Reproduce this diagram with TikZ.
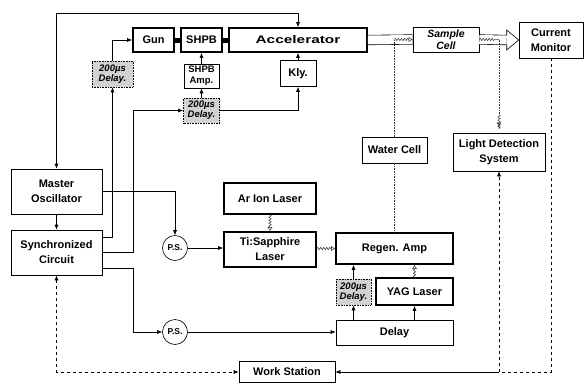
\documentclass[tikz,border=0pt]{standalone}
\usepackage{fontspec}
\setmainfont{Liberation Sans}
\usetikzlibrary{arrows.meta,decorations.pathmorphing}

\begin{document}
\begin{tikzpicture}[x=1pt,y=-1pt,
  unit/.style={draw,line width=.6pt,align=center,inner sep=1pt,font=\fontsize{11}{15}\selectfont\bfseries},
  heavy/.style={unit,line width=1.6pt},
  delaybox/.style={unit,densely dotted,fill=gray!35,font=\fontsize{9.5}{10}\selectfont\bfseries\itshape},
  psnode/.style={draw,circle,line width=.6pt,minimum size=25pt,inner sep=0pt,font=\fontsize{8.5}{10}\selectfont\bfseries},
  link/.style={line width=.6pt,-{Latex[length=5pt,width=4pt]}},
  ctrl/.style={link,dashed},
  optic/.style={line width=.6pt,densely dotted,gray!40!black},
  wave/.style={line width=.5pt,gray!40!black,decorate,
    decoration={snake,amplitude=1.2pt,segment length=3pt,post length=4pt},
    -{Latex[open,length=4pt,width=5pt]}},
  beam/.style={line width=.6pt,double,double distance=9pt}
]
  \useasboundingbox (0,0) rectangle (584,383);

  % beam line
  \node[heavy,minimum width=41pt,minimum height=24pt] (gun) at (153.5,40) {Gun};
  \node[heavy,minimum width=41pt,minimum height=24pt] (shpb) at (201.5,40) {SHPB};
  \node[heavy,minimum width=138pt,minimum height=24pt] (accel) at (298,40) {\scalebox{1.4}[1]{Accelerator}};
  \node[unit,minimum width=66pt,minimum height=25pt,font=\fontsize{10.5}{12.5}\selectfont\bfseries\itshape] (cell) at (446,39.5) {Sample\\Cell};
  \node[unit,minimum width=64pt,minimum height=36pt] (monitor) at (551,40) {Current\\Monitor};
  \node[delaybox,minimum width=41pt,minimum height=26pt] (dlyA) at (112.5,74) {200µs\\Delay.};
  \node[unit,minimum width=35pt,minimum height=24pt,font=\fontsize{9.5}{11}\selectfont\bfseries] (amp) at (201.5,76) {SHPB\\Amp.};
  \node[delaybox,minimum width=36pt,minimum height=25pt] (dlyB) at (201.5,110.5) {200µs\\Delay.};
  \node[unit,minimum width=36pt,minimum height=26pt] (kly) at (298,73.5) {Kly.};

  % timing and lasers
  \node[unit,minimum width=65pt,minimum height=26pt] (water) at (394.5,150) {Water Cell};
  \node[unit,minimum width=92pt,minimum height=38pt] (lds) at (499,152) {Light Detection\\System};
  \node[unit,minimum width=91pt,minimum height=45pt] (master) at (56.5,191.5) {Master\\Oscillator};
  \node[unit,minimum width=91pt,minimum height=45pt] (sync) at (56.5,252.5) {Synchronized\\Circuit};
  \node[heavy,minimum width=92pt,minimum height=31pt] (arion) at (270,198.5) {Ar Ion Laser};
  \node[heavy,minimum width=92pt,minimum height=35pt] (tisa) at (270,249.5) {Ti:Sapphire\\Laser};
  \node[psnode] (ps1) at (175,248) {P.S.};
  \node[psnode] (ps2) at (175,332) {P.S.};
  \node[heavy,minimum width=117pt,minimum height=31pt] (regen) at (394.5,248.5) {Regen. Amp};
  \node[delaybox,minimum width=35pt,minimum height=26pt] (dlyC) at (353.5,292) {200µs\\Delay.};
  \node[heavy,minimum width=77pt,minimum height=27pt] (yag) at (414.5,291.5) {YAG Laser};
  \node[unit,minimum width=117pt,minimum height=25pt] (delay) at (394.5,332.5) {Delay};
  \node[unit,minimum width=96pt,minimum height=21pt] (ws) at (287,372) {Work Station};

  \coordinate (top) at (0,13);
  \coordinate (jB) at (133,0);
  \coordinate (wtap) at (water.north |- cell.west);
  \coordinate (ltap) at (lds.north |- cell.east);
  \coordinate (wsj) at (lds.south |- ws.east);

  \draw[line width=5pt] (gun.east) -- (shpb.west);
  \draw[line width=5pt] (shpb.east) -- (accel.west);
  \draw[beam] (accel.east) -- (cell.west);
  \draw[beam] (cell.east) -- ([xshift=-12pt]monitor.west);
  \draw[line width=.6pt] (monitor.west) ++(-12,-4.8) -- ++(0,-5.2) -- (monitor.west)
    -- ++(-12,10) -- ++(0,-5.2);

  \draw[link,{Latex[length=5pt,width=4pt]}-{Latex[length=5pt,width=4pt]}]
    (master.north) -- (master.north |- top) -| (accel.north);
  \draw[link] (master) -- (sync);
  \draw[link] ([yshift=15.5pt]sync.east) -| (dlyA.south);
  \draw[link] (dlyA.north) |- (gun.west);
  \draw[link] (sync.east) -| (jB |- dlyB.west) -- (dlyB.west);
  \draw[link] (dlyB) -- (amp);
  \draw[link] (amp) -- (shpb);
  \draw[link] (dlyB.east) -| (kly.south);
  \draw[link] (kly) -- (accel);
  \draw[link] (master.east) -| (ps1.north);
  \draw[link] (ps1.east) -- (ps1.east -| tisa.west);
  \draw[link] ([yshift=-15.5pt]sync.east) -| (jB |- ps2.west) -- (ps2.west);
  \draw[link] (ps2.east) -- (ps2.east -| delay.west);
  \draw[link] (delay.north -| dlyC) -- (dlyC.south);
  \draw[link] (delay.north -| yag) -- (yag.south);
  \draw[link] (dlyC.north) -- (dlyC.north |- regen.south);

  % optical paths
  \draw[wave] (arion.south) -- (tisa.north);
  \draw[wave] (tisa.east |- regen.west) -- (regen.west);
  \draw[wave] (yag.north) -- (yag.north |- regen.south);
  \draw[optic] (regen.north) -- (water.south);
  \draw[optic] (water.north) -- (wtap);
  \draw[wave] (wtap) -- (cell.west);
  \draw[wave,-] (cell.east) -- (ltap);
  \draw[optic] (ltap) -- ([yshift=18pt]lds.north);
  \draw[wave,shorten >=6pt] ([yshift=18pt]lds.north) -- (lds.north);

  % control lines
  \draw[ctrl,{Latex[length=5pt,width=4pt]}-{Latex[length=5pt,width=4pt]}] (sync.south) |- (ws.west);
  \draw[ctrl] (wsj) -- (lds.south);
  \draw[link] (wsj) -- (ws.east);
  \draw[line width=.6pt,dashed] (monitor.south) |- (wsj);
\end{tikzpicture}
\end{document}
